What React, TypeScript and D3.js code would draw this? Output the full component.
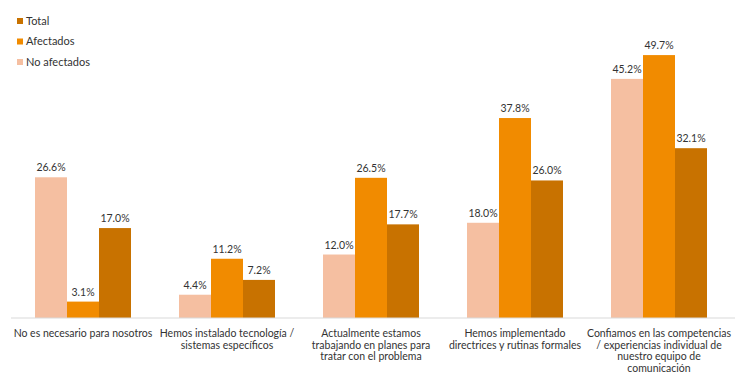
import * as d3 from "d3";

const categories = [
  ["No es necesario para nosotros"],
  ["Hemos instalado tecnología /", "sistemas específicos"],
  ["Actualmente estamos", "trabajando en planes para", "tratar con el problema"],
  ["Hemos implementado", "directrices y rutinas formales"],
  ["Confiamos en las competencias", "/ experiencias individual de", "nuestro equipo de", "comunicación"],
];
const series = ["No afectados", "Afectados", "Total"];
const noAfectados = [26.6, 4.4, 12.0, 18.0, 45.2];
const afectados = [3.1, 11.2, 26.5, 37.8, 49.7];
const total = [17.0, 7.2, 17.7, 26.0, 32.1];
const legendOrder = ["Total", "Afectados", "No afectados"];

const colors: Record<string, string> = {
  "No afectados": "#F5BFA1",
  Afectados: "#F18B00",
  Total: "#C87200",
};

const W = 745;
const H = 392;
const font = "Lato, 'Open Sans', sans-serif";

export default function App() {
  const values = [noAfectados, afectados, total];
  const x = d3.scaleBand<number>().domain(d3.range(categories.length)).range([11, 731]);
  const xi = d3
    .scaleBand<string>()
    .domain(series)
    .range([0, x.bandwidth()])
    .paddingOuter(0.75)
    .paddingInner(0);
  const y = d3.scaleLinear().domain([0, 50]).range([318, 53.5]);

  return (
    <svg width={W} height={H} style={{ position: "absolute", left: 0, top: 0 }} fontFamily={font}>
      <rect width={W} height={H} fill="#fff" />
      {categories.map((_, i) => (
        <g key={i} transform={`translate(${x(i)},0)`}>
          {series.map((s, j) => {
            const v = values[j][i];
            const bx = xi(s)!;
            return (
              <g key={s}>
                <rect x={bx} y={y(v)} width={xi.bandwidth()} height={y(0) - y(v)} fill={colors[s]} />
                <text
                  x={bx + xi.bandwidth() / 2}
                  y={y(v) - 6}
                  textAnchor="middle"
                  fontSize={10.5}
                  fill="#333"
                >
                  {v.toFixed(1)}%
                </text>
              </g>
            );
          })}
        </g>
      ))}
      <line x1={11} x2={735} y1={y(0)} y2={y(0)} stroke="#d9d9d9" />
      {categories.map((lines, i) => (
        <text
          key={i}
          x={x(i)! + x.bandwidth() / 2}
          y={337}
          textAnchor="middle"
          fontSize={10.5}
          fill="#333"
        >
          {lines.map((l, k) => (
            <tspan key={k} x={x(i)! + x.bandwidth() / 2} dy={k === 0 ? 0 : 11.5}>
              {l}
            </tspan>
          ))}
        </text>
      ))}
      {legendOrder.map((s, k) => (
        <g key={s} transform={`translate(17,${21 + k * 20.5})`}>
          <rect x={0} y={-3} width={6} height={6} fill={colors[s]} />
          <text x={9} y={3.8} fontSize={11} fill="#333">
            {s}
          </text>
        </g>
      ))}
    </svg>
  );
}
